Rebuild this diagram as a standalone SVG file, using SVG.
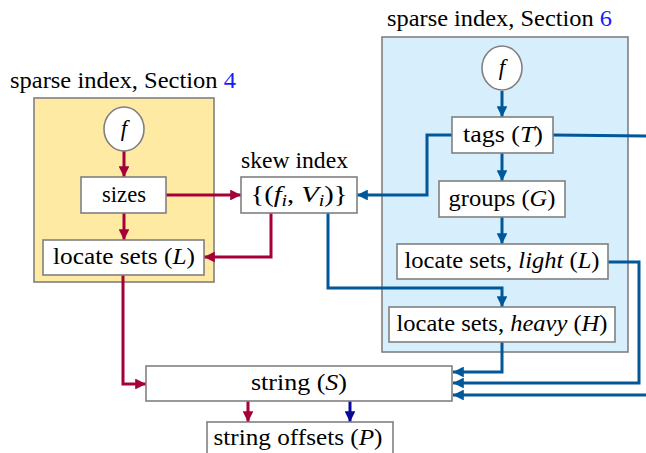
<svg xmlns="http://www.w3.org/2000/svg" width="646" height="453" viewBox="0 0 646 453">
<defs>
<style>
text{font-family:"Liberation Serif","DejaVu Serif",serif;font-size:23px;fill:#000}
.c{text-anchor:middle}
.i{font-style:italic}
.num{fill:#1a1aff}
.box{fill:#fff;stroke:#808080;stroke-width:1.6}
.red{fill:none;stroke:#a5003a;stroke-width:3}
.blue{fill:none;stroke:#00579a;stroke-width:3}
.navy{fill:none;stroke:#0a0a96;stroke-width:3}
</style>
<marker id="ar" viewBox="0 0 10 10" refX="10" refY="5" markerWidth="3.6" markerHeight="3.6" orient="auto" markerUnits="strokeWidth"><path d="M0,0 L10,5 L0,10 z" fill="#a5003a"/></marker>
<marker id="ab" viewBox="0 0 10 10" refX="10" refY="5" markerWidth="3.6" markerHeight="3.6" orient="auto" markerUnits="strokeWidth"><path d="M0,0 L10,5 L0,10 z" fill="#00579a"/></marker>
<marker id="an" viewBox="0 0 10 10" refX="10" refY="5" markerWidth="3.6" markerHeight="3.6" orient="auto" markerUnits="strokeWidth"><path d="M0,0 L10,5 L0,10 z" fill="#0a0a96"/></marker>
</defs>
<rect width="646" height="453" fill="#fff"/>

<g id="panel-left">
<rect x="34" y="98" width="180" height="184" fill="#ffeaa3" stroke="#808080" stroke-width="1.6"/>
<text x="10" y="88" textLength="226" lengthAdjust="spacingAndGlyphs">sparse index, Section <tspan class="num">4</tspan></text>
</g>
<g id="panel-right">
<rect x="382" y="37" width="246" height="315" fill="#d7effc" stroke="#808080" stroke-width="1.6"/>
<text x="387" y="26" textLength="225" lengthAdjust="spacingAndGlyphs">sparse index, Section <tspan class="num">6</tspan></text>
</g>

<g id="connectors">
<path class="red" d="M124,151 V177" marker-end="url(#ar)"/>
<path class="red" d="M124,213 V240" marker-end="url(#ar)"/>
<path class="red" d="M166,195 H241" marker-end="url(#ar)"/>
<path class="red" d="M271,213 V257 H204" marker-end="url(#ar)"/>
<path class="red" d="M123,275 V384 H146" marker-end="url(#ar)"/>
<path class="red" d="M248,401 V422" marker-end="url(#ar)"/>
<path class="blue" d="M502,91 V117" marker-end="url(#ab)"/>
<path class="blue" d="M452,135 H427 V195 H357" marker-end="url(#ab)"/>
<path class="blue" d="M553,135 L646,136"/>
<path class="blue" d="M502,153 V181" marker-end="url(#ab)"/>
<path class="blue" d="M502,217 V244" marker-end="url(#ab)"/>
<path class="blue" d="M328,213 V288 H502 V307" marker-end="url(#ab)"/>
<path class="blue" d="M502,342 V372 H453" marker-end="url(#ab)"/>
<path class="blue" d="M608,262 H639 V383 H453" marker-end="url(#ab)"/>
<path class="blue" d="M646,395 H453" marker-end="url(#ab)"/>
<path class="navy" d="M350,401 V422" marker-end="url(#an)"/>
</g>

<g id="f-left">
<ellipse cx="124" cy="129" rx="20" ry="22" fill="#fff" stroke="#808080" stroke-width="1.6"/>
<text class="c i" x="124" y="136">f</text>
</g>
<g id="sizes">
<rect class="box" x="81" y="177" width="85" height="36"/>
<text class="c" x="124" y="202" textLength="44" lengthAdjust="spacingAndGlyphs">sizes</text>
</g>
<g id="locate-L">
<rect class="box" x="43" y="240" width="161" height="35"/>
<text class="c" x="124" y="264" textLength="142" lengthAdjust="spacingAndGlyphs">locate sets (<tspan class="i">L</tspan>)</text>
</g>
<g id="skew-index">
<text x="241" y="168" textLength="107" lengthAdjust="spacingAndGlyphs">skew index</text>
<rect class="box" x="241" y="177" width="116" height="36"/>
<text class="c" x="299" y="202" textLength="97" lengthAdjust="spacingAndGlyphs">{(<tspan class="i">f</tspan><tspan class="i" font-size="16" dy="4">i</tspan><tspan dy="-4">, </tspan><tspan class="i">V</tspan><tspan class="i" font-size="16" dy="4">i</tspan><tspan dy="-4">)}</tspan></text>
</g>
<g id="f-right">
<ellipse cx="502" cy="68" rx="20" ry="22" fill="#fff" stroke="#808080" stroke-width="1.6"/>
<text class="c i" x="502" y="75">f</text>
</g>
<g id="tags">
<rect class="box" x="452" y="117" width="101" height="36"/>
<text class="c" x="503" y="142" textLength="80" lengthAdjust="spacingAndGlyphs">tags (<tspan class="i">T</tspan>)</text>
</g>
<g id="groups">
<rect class="box" x="439" y="181" width="126" height="36"/>
<text class="c" x="502" y="206" textLength="107" lengthAdjust="spacingAndGlyphs">groups (<tspan class="i">G</tspan>)</text>
</g>
<g id="locate-light">
<rect class="box" x="397" y="244" width="211" height="35"/>
<text class="c" x="502" y="268" textLength="195" lengthAdjust="spacingAndGlyphs">locate sets, <tspan class="i">light</tspan> (<tspan class="i">L</tspan>)</text>
</g>
<g id="locate-heavy">
<rect class="box" x="389" y="307" width="226" height="35"/>
<text class="c" x="502" y="331" textLength="211" lengthAdjust="spacingAndGlyphs">locate sets, <tspan class="i">heavy</tspan> (<tspan class="i">H</tspan>)</text>
</g>
<g id="string">
<rect class="box" x="146" y="366" width="306" height="35"/>
<text class="c" x="299" y="390" textLength="96" lengthAdjust="spacingAndGlyphs">string (<tspan class="i">S</tspan>)</text>
</g>
<g id="string-offsets">
<rect class="box" x="207" y="422" width="186" height="40"/>
<text class="c" x="298" y="445" textLength="169" lengthAdjust="spacingAndGlyphs">string offsets (<tspan class="i">P</tspan>)</text>
</g>
</svg>
